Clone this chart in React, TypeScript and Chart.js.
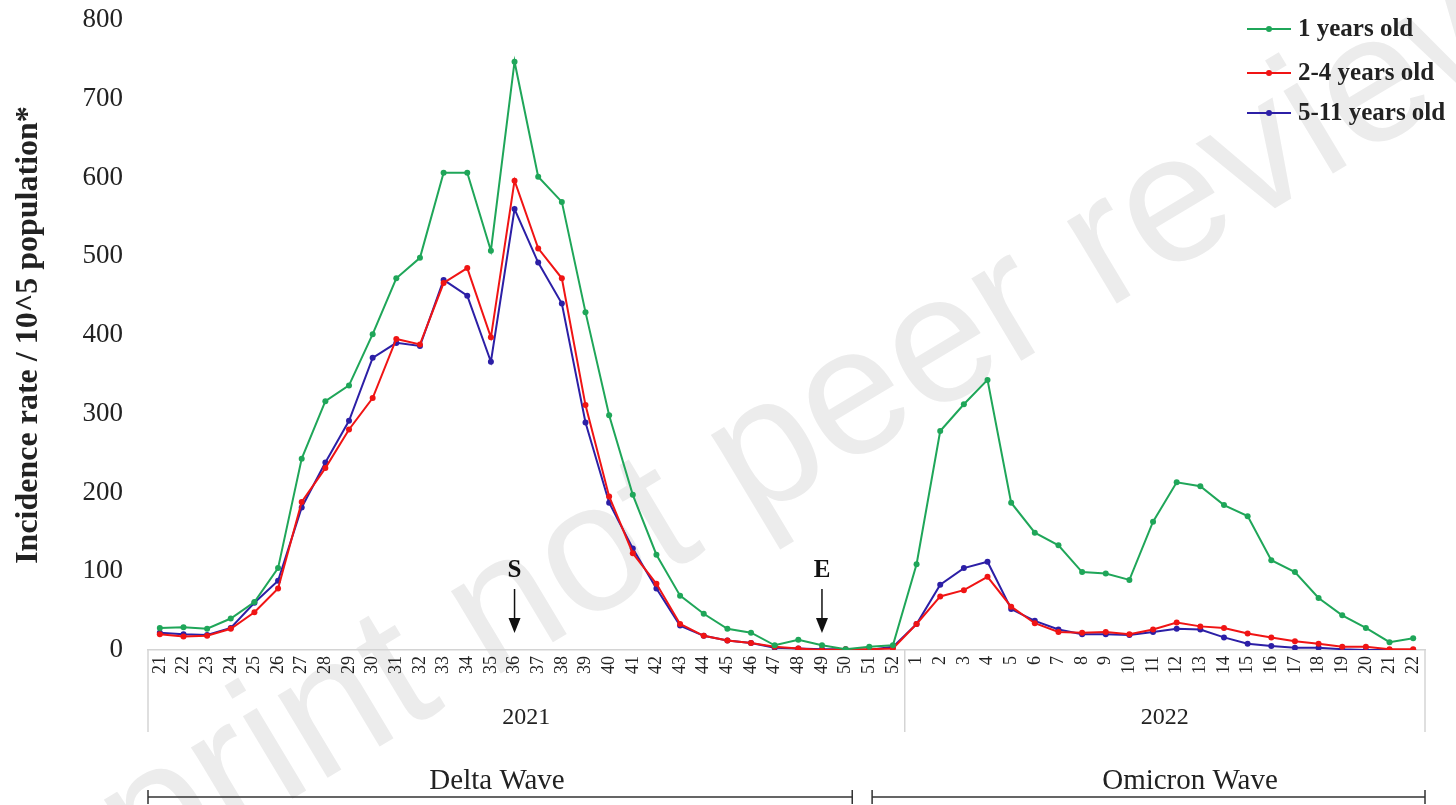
import React, { useEffect, useRef } from "react";
import { Chart, registerables } from "chart.js";

Chart.register(...registerables);

const weeks2021 = ["21","22","23","24","25","26","27","28","29","30","31","32","33","34","35","36","37","38","39","40","41","42","43","44","45","46","47","48","49","50","51","52"];
const weeks2022 = ["1","2","3","4","5","6","7","8","9","10","11","12","13","14","15","16","17","18","19","20","21","22"];
const categories = [...weeks2021, ...weeks2022];

const age1 = [28,29,27,40,61,104,243,316,336,401,472,498,606,606,507,747,601,569,429,298,197,121,69,46,27,22,6,13,6,1,4,6,
  109,278,312,343,187,149,133,99,97,89,163,213,208,184,170,114,99,66,44,28,10,15];
const age2to4 = [20,17,18,27,48,78,188,231,280,320,395,388,466,485,397,596,510,472,311,195,123,84,33,18,12,9,4,2,0,1,1,2,
  33,68,76,93,55,34,23,22,23,20,26,35,30,28,21,16,11,8,4,4,1,1];
const age5to11 = [22,20,19,28,60,88,181,238,291,371,390,386,470,450,366,560,492,440,289,187,129,78,31,18,12,9,3,2,1,1,0,4,
  33,83,104,112,52,37,26,20,20,19,23,27,26,16,8,5,3,3,1,0,0,0];

const seriesNames = ["1 years old", "2-4 years old", "5-11 years old"];
const seriesColors = ["#1fa659", "#f01414", "#2c1fa6"];
const yearLabels = ["2021", "2022"];
const waveLabels = ["Delta Wave", "Omicron Wave"];
const markers = [{ label: "S", week: "36" }, { label: "E", week: "49" }];

const SERIF = "'Liberation Serif', 'Times New Roman', serif";

const overlayPlugin = {
  id: "overlay",
  beforeDraw(chart: any) {
    const ctx = chart.ctx;
    ctx.save();
    ctx.fillStyle = "#ffffff";
    ctx.fillRect(0, 0, chart.width, chart.height);
    // watermark
    ctx.font = "182px 'Liberation Sans', Arial, sans-serif";
    ctx.fillStyle = "#ececec";
    const ang = -31 * Math.PI / 180;
    const pre = ctx.measureText("Prepr").width;
    const ax = 282 - Math.cos(ang) * pre;
    const ay = 805 - Math.sin(ang) * pre;
    ctx.translate(ax, ay);
    ctx.rotate(ang);
    ctx.textBaseline = "alphabetic";
    ctx.fillText("Preprint not peer reviewed", 0, 0);
    ctx.restore();
  },
  afterDraw(chart: any) {
    const ctx = chart.ctx;
    const x = chart.scales.x;
    const area = chart.chartArea;
    const step = x.getPixelForValue(1) - x.getPixelForValue(0);
    const xi = (i: number) => x.getPixelForValue(i);
    ctx.save();
    // year box separators
    const sepX = [area.left, xi(weeks2021.length - 1) + step / 2, area.right];
    ctx.strokeStyle = "#d4d4d4";
    ctx.lineWidth = 1.5;
    sepX.forEach((sx) => {
      ctx.beginPath();
      ctx.moveTo(sx, area.bottom);
      ctx.lineTo(sx, area.bottom + 82);
      ctx.stroke();
    });
    ctx.fillStyle = "#222";
    ctx.font = `24px ${SERIF}`;
    ctx.textAlign = "center";
    ctx.textBaseline = "middle";
    ctx.fillText(yearLabels[0], (sepX[0] + sepX[1]) / 2, 718);
    ctx.fillText(yearLabels[1], (sepX[1] + sepX[2]) / 2, 718);

    // wave brackets
    const delta = [area.left, xi(29) + step * 0.28];
    const omi = [xi(30) + step * 0.12, area.right];
    ctx.strokeStyle = "#333";
    ctx.lineWidth = 1.5;
    [delta, omi].forEach(([a, b]) => {
      ctx.beginPath();
      ctx.moveTo(a, 797); ctx.lineTo(b, 797);
      ctx.moveTo(a, 790); ctx.lineTo(a, 804);
      ctx.moveTo(b, 790); ctx.lineTo(b, 804);
      ctx.stroke();
    });
    ctx.font = `29px ${SERIF}`;
    ctx.fillText(waveLabels[0], 497, 781);
    ctx.fillText(waveLabels[1], 1190, 781);

    // S / E markers
    markers.forEach((m) => {
      const idx = categories.indexOf(m.week);
      const mx = xi(idx);
      ctx.fillStyle = "#111";
      ctx.font = `bold 25px ${SERIF}`;
      ctx.textAlign = "center";
      ctx.fillText(m.label, mx, 571);
      ctx.strokeStyle = "#111";
      ctx.lineWidth = 1.5;
      ctx.beginPath();
      ctx.moveTo(mx, 589); ctx.lineTo(mx, 620);
      ctx.stroke();
      ctx.beginPath();
      ctx.moveTo(mx - 6, 618); ctx.lineTo(mx + 6, 618); ctx.lineTo(mx, 633);
      ctx.closePath();
      ctx.fill();
    });

    // legend
    const legY = [29, 73, 113];
    seriesNames.forEach((name, i) => {
      const y = legY[i];
      ctx.strokeStyle = seriesColors[i];
      ctx.fillStyle = seriesColors[i];
      ctx.lineWidth = 2;
      ctx.beginPath();
      ctx.moveTo(1247, y); ctx.lineTo(1291, y);
      ctx.stroke();
      ctx.beginPath();
      ctx.arc(1269, y, 3, 0, Math.PI * 2);
      ctx.fill();
      ctx.fillStyle = "#222";
      ctx.font = `bold 25px ${SERIF}`;
      ctx.textAlign = "left";
      ctx.textBaseline = "middle";
      ctx.fillText(name, 1298, y + 1);
    });
    ctx.restore();
  },
};

export default function App() {
  const ref = useRef<HTMLCanvasElement | null>(null);
  useEffect(() => {
    document.body.style.margin = "0";
    if (!ref.current) return;
    const mk = (label: string, data: number[], color: string) => ({
      label,
      data,
      borderColor: color,
      backgroundColor: color,
      borderWidth: 2,
      pointRadius: 3,
      pointHoverRadius: 3,
      pointBorderWidth: 0,
      tension: 0,
    });
    const chart = new Chart(ref.current, {
      type: "line",
      data: {
        labels: categories,
        datasets: [
          mk(seriesNames[0], age1, seriesColors[0]),
          mk(seriesNames[1], age2to4, seriesColors[1]),
          mk(seriesNames[2], age5to11, seriesColors[2]),
        ],
      },
      options: {
        animation: false,
        responsive: false,
        maintainAspectRatio: false,
        layout: { padding: { top: 20, right: 31, left: 0, bottom: 0 } },
        plugins: { legend: { display: false }, tooltip: { enabled: false } },
        scales: {
          x: {
            type: "category",
            offset: true,
            grid: { display: false, drawTicks: false },
            border: { display: true, color: "#d4d4d4", width: 1.5 },
            ticks: {
              autoSkip: false,
              minRotation: 90,
              maxRotation: 90,
              padding: 6,
              color: "#222",
              font: { family: SERIF, size: 18 },
            },
            afterFit: (s: any) => {
              s.height = 155;
              s.paddingLeft = 0;
              s.paddingRight = 0;
            },
          },
          y: {
            min: 0,
            max: 800,
            grid: { display: false, drawTicks: false },
            border: { display: false },
            ticks: {
              stepSize: 100,
              padding: 25,
              color: "#222",
              font: { family: SERIF, size: 27 },
            },
            title: {
              display: true,
              text: "Incidence rate / 10^5 population*",
              color: "#222",
              font: { family: SERIF, size: 32, weight: "bold" },
              padding: { top: 10, bottom: 0 },
            },
            afterFit: (s: any) => {
              s.width = 148;
              s.paddingTop = 0;
              s.paddingBottom = 0;
            },
          },
        },
      },
      plugins: [overlayPlugin],
    });
    return () => chart.destroy();
  }, []);
  return (
    <div style={{ width: 1456, height: 805 }}>
      <canvas ref={ref} width={1456} height={805} />
    </div>
  );
}
